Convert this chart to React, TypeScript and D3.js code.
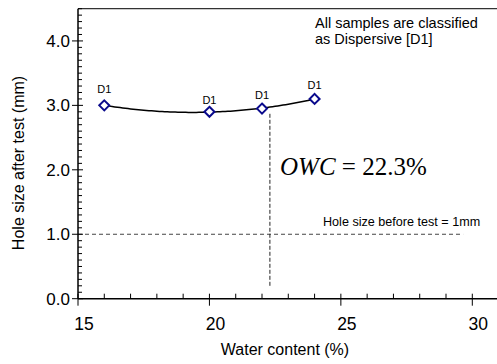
import { useEffect, useRef } from "react";
import * as d3 from "d3";

// measured points
const waterContent = [16, 20, 22, 24];
const holeSize = [3.0, 2.9, 2.95, 3.1];
const pointLabels = ["D1", "D1", "D1", "D1"];

const xTicks = [15, 20, 25, 30];
const yTicks = [0, 1, 2, 3, 4];

const owc = 22.3;
const owcRange = [0.2, 2.88];
const holeBefore = 1;
const holeBeforeEnd = 29.65;

const W = 497;
const H = 364;

// least squares quadratic through the measured points
function quadFit(xs: number[], ys: number[]) {
  const x0 = d3.mean(xs) ?? 0;
  const u = xs.map((v) => v - x0);
  const s = (f: (i: number) => number) => d3.sum(xs, (_, i) => f(i));
  const S0 = xs.length;
  const S1 = s((i) => u[i]);
  const S2 = s((i) => u[i] ** 2);
  const S3 = s((i) => u[i] ** 3);
  const S4 = s((i) => u[i] ** 4);
  const T0 = s((i) => ys[i]);
  const T1 = s((i) => u[i] * ys[i]);
  const T2 = s((i) => u[i] ** 2 * ys[i]);
  // solve 3x3 with Cramer's rule
  const det = (m: number[][]) =>
    m[0][0] * (m[1][1] * m[2][2] - m[1][2] * m[2][1]) -
    m[0][1] * (m[1][0] * m[2][2] - m[1][2] * m[2][0]) +
    m[0][2] * (m[1][0] * m[2][1] - m[1][1] * m[2][0]);
  const A = [
    [S0, S1, S2],
    [S1, S2, S3],
    [S2, S3, S4],
  ];
  const B = [T0, T1, T2];
  const D = det(A);
  const coef = [0, 1, 2].map((k) =>
    det(A.map((row, r) => row.map((v, c) => (c === k ? B[r] : v)))) / D,
  );
  return (xv: number) => coef[0] + coef[1] * (xv - x0) + coef[2] * (xv - x0) ** 2;
}

export default function App() {
  const svgRef = useRef<SVGSVGElement>(null);

  useEffect(() => {
    if (!svgRef.current) return;
    const svg = d3.select(svgRef.current);
    svg.selectAll("*").remove();

    const x = d3.scaleLinear().domain([15, 30]).range([78, 472.3]);
    const y = d3.scaleLinear().domain([0, 4.5]).range([298.7, 8.7]);
    const xMax = x.invert(W);

    const font = "Arial, 'Liberation Sans', sans-serif";
    const g = svg.append("g");

    // top frame line
    g.append("line")
      .attr("x1", x(15))
      .attr("x2", W)
      .attr("y1", y(4.5))
      .attr("y2", y(4.5))
      .attr("stroke", "#333")
      .attr("stroke-width", 1.2);

    // reference dashed lines
    g.append("line")
      .attr("x1", x(15))
      .attr("x2", x(holeBeforeEnd))
      .attr("y1", y(holeBefore))
      .attr("y2", y(holeBefore))
      .attr("stroke", "#444")
      .attr("stroke-dasharray", "4,3");

    g.append("line")
      .attr("x1", x(owc))
      .attr("x2", x(owc))
      .attr("y1", y(owcRange[0]))
      .attr("y2", y(owcRange[1]))
      .attr("stroke", "#222")
      .attr("stroke-dasharray", "4,2");

    // x axis
    g.append("line")
      .attr("x1", x(15))
      .attr("x2", W)
      .attr("y1", y(0))
      .attr("y2", y(0))
      .attr("stroke", "#000")
      .attr("stroke-width", 1.5);
    const xMinor = d3.range(16, Math.floor(xMax) + 1).filter((v) => v % 5 !== 0);
    g.selectAll(".xminor")
      .data(xMinor)
      .join("line")
      .attr("x1", (d) => x(d))
      .attr("x2", (d) => x(d))
      .attr("y1", y(0))
      .attr("y2", y(0) - 5)
      .attr("stroke", "#000");
    g.selectAll(".xmajor")
      .data(xTicks)
      .join("line")
      .attr("x1", (d) => x(d))
      .attr("x2", (d) => x(d))
      .attr("y1", y(0) - 5)
      .attr("y2", y(0) + 7)
      .attr("stroke", "#000");
    g.selectAll(".xlabel")
      .data(xTicks)
      .join("text")
      .attr("x", (d) => x(d) + 6)
      .attr("y", 330)
      .attr("text-anchor", "middle")
      .attr("font-family", font)
      .attr("font-size", 17.5)
      .text((d) => d);

    // y axis
    g.append("line")
      .attr("x1", x(15))
      .attr("x2", x(15))
      .attr("y1", y(0))
      .attr("y2", y(4.5))
      .attr("stroke", "#000")
      .attr("stroke-width", 1.5);
    const yMinor = d3
      .range(1, 46)
      .map((v) => v / 10)
      .filter((v) => Math.abs(v - Math.round(v)) > 1e-6);
    g.selectAll(".yminor")
      .data(yMinor)
      .join("line")
      .attr("x1", x(15))
      .attr("x2", x(15) + 4)
      .attr("y1", (d) => y(d))
      .attr("y2", (d) => y(d))
      .attr("stroke", "#000");
    g.selectAll(".ymajor")
      .data(yTicks)
      .join("line")
      .attr("x1", x(15) - 6)
      .attr("x2", x(15) + 5)
      .attr("y1", (d) => y(d))
      .attr("y2", (d) => y(d))
      .attr("stroke", "#000");
    g.selectAll(".ylabel")
      .data(yTicks)
      .join("text")
      .attr("x", 70)
      .attr("y", (d) => y(d) + 6)
      .attr("text-anchor", "end")
      .attr("font-family", font)
      .attr("font-size", 17)
      .text((d) => d.toFixed(1));

    // axis titles
    g.append("text")
      .attr("x", 285)
      .attr("y", 355)
      .attr("text-anchor", "middle")
      .attr("font-family", font)
      .attr("font-size", 16)
      .text("Water content (%)");
    g.append("text")
      .attr("transform", "translate(24,163) rotate(-90)")
      .attr("text-anchor", "middle")
      .attr("font-family", font)
      .attr("font-size", 16)
      .text("Hole size after test (mm)");

    // fitted curve
    const fit = quadFit(waterContent, holeSize);
    const [lo, hi] = d3.extent(waterContent) as [number, number];
    const curvePts = d3.range(lo, hi + 0.001, 0.1).map((v) => [v, fit(v)] as [number, number]);
    const line = d3
      .line<[number, number]>()
      .x((d) => x(d[0]))
      .y((d) => y(d[1]));
    g.append("path")
      .attr("d", line(curvePts))
      .attr("fill", "none")
      .attr("stroke", "#000")
      .attr("stroke-width", 1.5);

    // markers
    const pts = waterContent.map((wc, i) => [wc, holeSize[i]] as [number, number]);
    const diamond = d3.symbol().type(d3.symbolDiamond2).size(64);
    g.selectAll(".pt")
      .data(pts)
      .join("path")
      .attr("transform", (d) => `translate(${x(d[0])},${y(d[1])})`)
      .attr("d", diamond())
      .attr("fill", "#fff")
      .attr("stroke", "#0a0a8c")
      .attr("stroke-width", 2);

    const labelOffset = [12, 8, 10, 10];
    g.selectAll(".ptlabel")
      .data(pts)
      .join("text")
      .attr("x", (d) => x(d[0]))
      .attr("y", (d, i) => y(d[1]) - labelOffset[i])
      .attr("text-anchor", "middle")
      .attr("font-family", font)
      .attr("font-size", 11)
      .text((_, i) => pointLabels[i]);

    // annotations
    const note = g.append("text").attr("font-family", font).attr("font-size", 14.5);
    note.append("tspan").attr("x", 315).attr("y", 28).text("All samples are classified");
    note.append("tspan").attr("x", 315).attr("y", 44).text("as Dispersive [D1]");

    g.append("text")
      .attr("x", 323)
      .attr("y", 226)
      .attr("font-family", font)
      .attr("font-size", 12.6)
      .text("Hole size before test = 1mm");

    const owcText = g
      .append("text")
      .attr("x", 280)
      .attr("y", 175)
      .attr("font-family", "'Liberation Serif', 'Times New Roman', serif")
      .attr("font-size", 25);
    owcText.append("tspan").attr("font-style", "italic").text("OWC");
    owcText.append("tspan").text(` = ${owc}%`);
  }, []);

  return (
    <svg
      ref={svgRef}
      width={W}
      height={H}
      style={{ position: "absolute", left: 0, top: 0, background: "#fff" }}
    />
  );
}
